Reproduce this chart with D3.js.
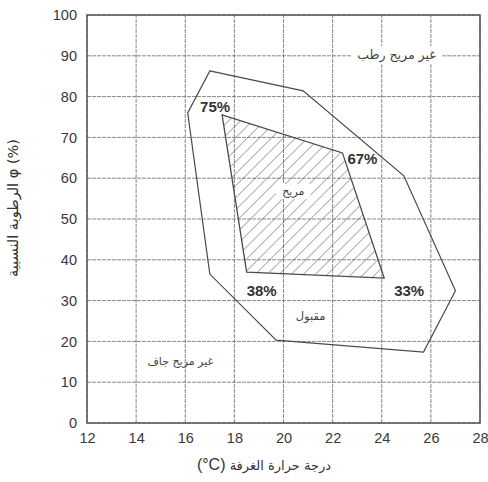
<!DOCTYPE html>
<html><head><meta charset="utf-8">
<script src="https://cdn.jsdelivr.net/npm/d3@7"></script>
<style>
html,body{margin:0;padding:0;background:#fff;}
svg{display:block;}
</style></head>
<body>
<svg id="chart" width="488" height="482"></svg>
<script>
// ---- data ----
const xTicks = [12,14,16,18,20,22,24,26,28];
const yTicks = [0,10,20,30,40,50,60,70,80,90,100];
const outerX = [17, 20.8, 24.9, 27.0, 25.7, 19.7, 17.0, 16.1];
const outerY = [86.3, 81.4, 60.6, 32.4, 17.4, 20.3, 36.5, 76.0];
const comfortX = [17.5, 22.4, 24.1, 18.5];
const comfortY = [75.5, 66.2, 35.5, 37.0];
const comfortLabels = ["75%", "67%", "33%", "38%"];
const regionNames = ["غير مريح رطب", "مريح", "مقبول", "غير مريح جاف"];
const regionX = [24.6, 20.4, 21.1, 15.8];
const regionY = [90, 56.6, 26, 15];
const xTitleMain = "درجة حرارة الغرفة";
const xTitleUnit = "(°C)";
const yTitle = "الرطوبة النسبية φ (%)";

// ---- drawing ----
const svg = d3.select("#chart");
const x = d3.scaleLinear().domain([12,28]).range([87,480]);
const y = d3.scaleLinear().domain([0,100]).range([423,15]);
const ink = "#4a4a4a";
const arab = "'DejaVu Sans', sans-serif";
const num = "'Liberation Sans', Arial, sans-serif";

const defs = svg.append("defs");
const pat = defs.append("pattern").attr("id","hatch").attr("patternUnits","userSpaceOnUse")
  .attr("width",8.5).attr("height",8.5).attr("patternTransform","rotate(45)");
pat.append("line").attr("x1",0).attr("y1",0).attr("x2",0).attr("y2",8.5)
  .attr("stroke","#555").attr("stroke-width",1);

// grid
const grid = svg.append("g");
grid.selectAll("line.v").data(xTicks).join("line")
  .attr("x1",d=>x(d)).attr("x2",d=>x(d)).attr("y1",y(0)).attr("y2",y(100))
  .attr("stroke","#7a7a7a").attr("stroke-width",0.9).attr("stroke-dasharray","4,1");
grid.selectAll("line.h").data(yTicks).join("line")
  .attr("x1",x(12)).attr("x2",x(28)).attr("y1",d=>y(d)).attr("y2",d=>y(d))
  .attr("stroke","#7a7a7a").attr("stroke-width",0.9).attr("stroke-dasharray","4,1");

// frame
svg.append("rect").attr("x",x(12)).attr("y",y(100))
  .attr("width",x(28)-x(12)).attr("height",y(0)-y(100))
  .attr("fill","none").attr("stroke","#555").attr("stroke-width",1.5);

// axes (labels only)
const xAxis = d3.axisBottom(x).tickValues(xTicks).tickSize(0).tickPadding(10);
const gx = svg.append("g").attr("transform",`translate(0,${y(0)})`).call(xAxis);
gx.select(".domain").remove();
gx.selectAll("text").attr("font-family",num).attr("font-size",14.5).attr("fill","#383838");
const yAxis = d3.axisLeft(y).tickValues(yTicks).tickSize(0).tickPadding(10);
const gy = svg.append("g").attr("transform",`translate(${x(12)},0)`).call(yAxis);
gy.select(".domain").remove();
gy.selectAll("text").attr("font-family",num).attr("font-size",14.5).attr("fill","#383838");

// outer polygon
const line = d3.line().x(d=>x(d[0])).y(d=>y(d[1])).curve(d3.curveLinearClosed);
svg.append("path").datum(outerX.map((v,i)=>[v,outerY[i]]))
  .attr("d",line).attr("fill","none").attr("stroke",ink).attr("stroke-width",1.2);

// comfort polygon
const comfortPts = comfortX.map((v,i)=>[v,comfortY[i]]);
svg.append("path").datum(comfortPts)
  .attr("d",line).attr("fill","url(#hatch)").attr("stroke",ink).attr("stroke-width",1.3);

// vertex labels
const offs = [[-7,-3],[20,11],[25,18],[15,24]];
svg.selectAll("text.vl").data(comfortLabels).join("text")
  .attr("x",(d,i)=>x(comfortX[i])+offs[i][0]).attr("y",(d,i)=>y(comfortY[i])+offs[i][1])
  .attr("text-anchor","middle").attr("font-family",num).attr("font-weight","bold")
  .attr("font-size",15).attr("fill","#333").text(d=>d);

// region labels with white backing
const rl = svg.append("g");
const rSize = [12.5, 11, 11.5, 11];
regionNames.forEach((t,i)=>{
  const g = rl.append("g");
  const tx = g.append("text").attr("x",x(regionX[i])).attr("y",y(regionY[i]))
    .attr("text-anchor","middle").attr("dominant-baseline","middle")
    .attr("font-family",arab).attr("font-size",rSize[i]).attr("fill","#444").text(t);
  const bb = tx.node().getBBox();
  if (i<2) {
    g.insert("rect","text").attr("x",bb.x-6).attr("y",bb.y-1).attr("width",bb.width+12)
      .attr("height",bb.height+2).attr("fill","#fff");
  }
});

// axis titles
const xt = svg.append("text").attr("x",264).attr("y",470).attr("text-anchor","middle")
  .attr("direction","rtl").style("unicode-bidi","embed")
  .attr("font-family",arab).attr("font-size",13).attr("fill","#333");
xt.append("tspan").text(xTitleMain + " ");
xt.append("tspan").attr("font-family",num).attr("font-size",16)
  .attr("direction","ltr").style("unicode-bidi","isolate")
  .text("\u2066" + xTitleUnit + "\u2069");
svg.append("text").attr("transform","translate(18,208) rotate(-90)").attr("text-anchor","middle")
  .attr("font-family",arab).attr("font-size",14.5).attr("fill","#333").text(yTitle);
</script>
</body></html>
